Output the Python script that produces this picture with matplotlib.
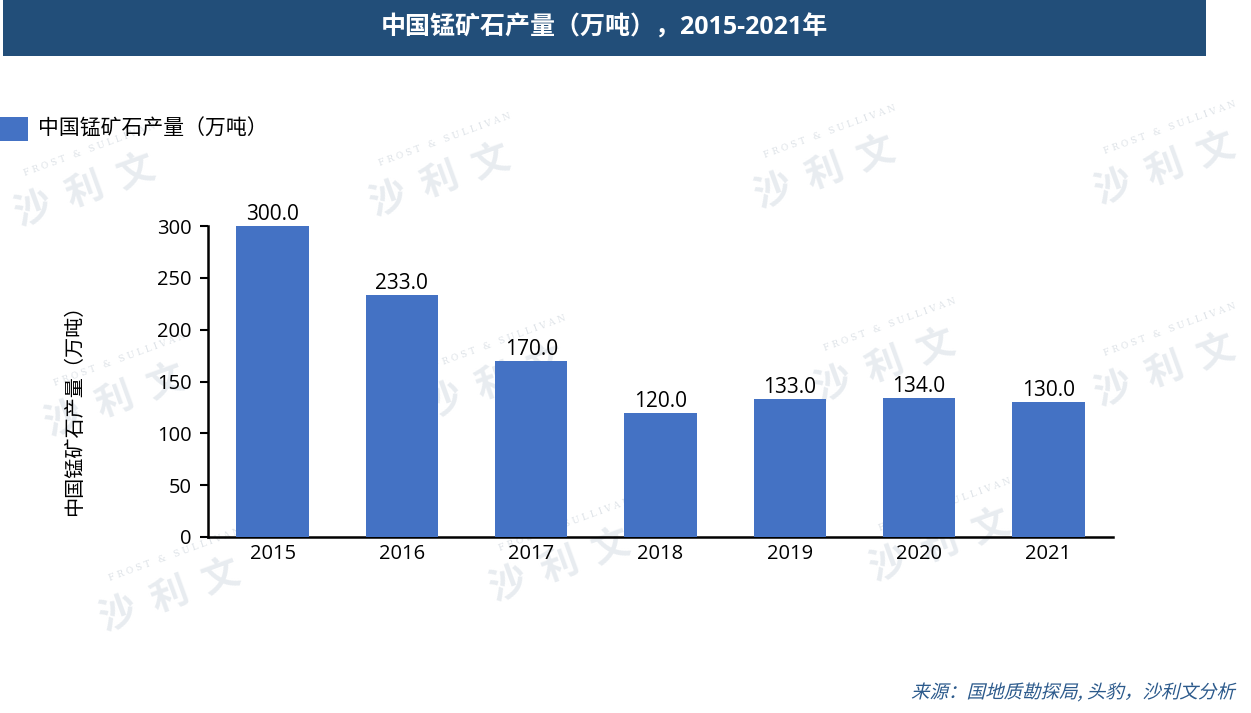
import matplotlib
matplotlib.use('Agg')
import matplotlib.pyplot as plt
from matplotlib.patches import Rectangle, PathPatch
from matplotlib.textpath import TextPath
from matplotlib.font_manager import FontProperties
from matplotlib.transforms import Affine2D

plt.rcParams['font.family'] = ['Open Sans', 'Noto Sans CJK SC', 'DejaVu Sans']

years = ['2015', '2016', '2017', '2018', '2019', '2020', '2021']
output = [300.0, 233.0, 170.0, 120.0, 133.0, 134.0, 130.0]
title = '中国锰矿石产量（万吨），2015-2021年'
series_name = '中国锰矿石产量（万吨）'
source = '来源：国地质勘探局, 头豹，沙利文分析'

W, H = 1251, 713
fig = plt.figure(figsize=(W / 100, H / 100), dpi=100)

def fx(px):
    return px / W

def fy(py):
    return 1 - py / H

# faint watermarks behind the chart
wm_pos = [(85, 190), (440, 180), (825, 172), (1165, 168),
          (115, 400), (495, 382), (885, 365), (1165, 370),
          (170, 595), (560, 565), (940, 545)]
for x, y in wm_pos:
    fig.text(fx(x), fy(y), '沙  利  文', fontsize=27, fontweight='bold', color='#E8ECF0',
             family='Noto Sans CJK SC', rotation=20, ha='center', va='center', zorder=0)
    fig.text(fx(x + 5), fy(y - 40), 'F R O S T   &   S U L L I V A N', fontsize=6.5,
             family='DejaVu Serif', color='#DDE2E7', rotation=20, ha='center', va='center', zorder=0)

# header band
fig.patches.append(Rectangle((fx(3), fy(56)), fx(1206) - fx(3), fy(0) - fy(56),
                             transform=fig.transFigure, facecolor='#224E79', edgecolor='none', zorder=1))
fig.text(fx(604), fy(28), title, color='white', fontsize=18, fontweight='bold',
         ha='center', va='center', zorder=2)

# legend
fig.patches.append(Rectangle((fx(0), fy(141)), fx(28), fy(117) - fy(141),
                             transform=fig.transFigure, facecolor='#4472C4', edgecolor='none'))
fig.text(fx(38), fy(129), series_name, fontsize=15, ha='left', va='center')

ax = fig.add_axes([fx(208), fy(537), fx(1113) - fx(208), fy(226) - fy(537)])
ax.set_zorder(2)
ax.patch.set_alpha(0)
x = range(len(years))
ax.bar(x, output, width=0.56, color='#4472C4', zorder=3)
for xi, v in zip(x, output):
    ax.text(xi, v + 1.0, f'{v:.1f}', ha='center', va='bottom', fontsize=15)

ax.set_xlim(-0.5, 6.5)
ax.set_ylim(0, 300)
ax.set_yticks([0, 50, 100, 150, 200, 250, 300])
ax.set_xticks(list(x))
ax.set_xticklabels(years)
ax.tick_params(axis='y', labelsize=14.5, length=6, width=1.5, direction='out', pad=6)
ax.tick_params(axis='x', labelsize=14.5, length=0, pad=5)
for s in ['top', 'right']:
    ax.spines[s].set_visible(False)
for s in ['left', 'bottom']:
    ax.spines[s].set_linewidth(1.8)

fig.text(fx(75), fy(405), series_name, rotation=90, fontsize=14.5, ha='center', va='center')

# italic-looking source note
fp = FontProperties(family='Noto Sans CJK SC')
tp = TextPath((0, 0), source, prop=fp, size=18.5)
bb = tp.get_extents()
tr = Affine2D().skew_deg(14, 0).translate(1238 - bb.x1 - 4, H - 698)
fig.patches.append(PathPatch(tr.transform_path(tp), transform=None,
                             facecolor='#2C5A8C', edgecolor='none'))

fig.savefig('out.png', dpi=100)
